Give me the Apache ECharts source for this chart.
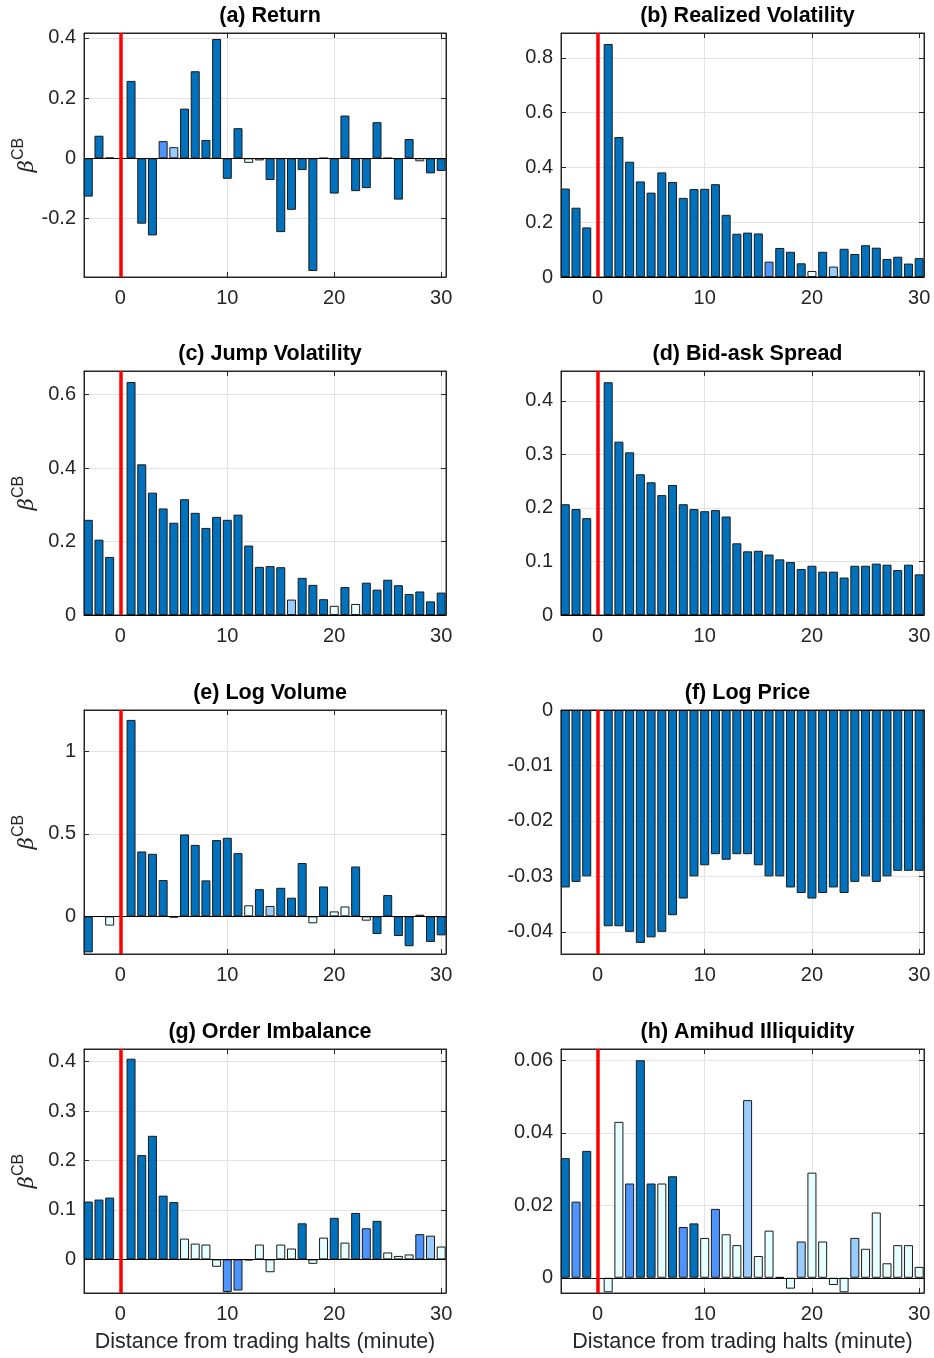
<!DOCTYPE html>
<html>
<head>
<meta charset="utf-8">
<script src="https://cdn.jsdelivr.net/npm/echarts@6.0.0/dist/echarts.min.js"></script>
<style>
html,body{margin:0;padding:0;background:#fff;}
#chart{width:934px;height:1358px;}
</style>
</head>
<body>
<div id="chart"></div>
<script>
// minutes relative to the trading halt (0 = halt, no bar)
const minutes = [-3,-2,-1,0,1,2,3,4,5,6,7,8,9,10,11,12,13,14,15,16,17,18,19,20,21,22,23,24,25,26,27,28,29,30];

const titles = ['(a) Return','(b) Realized Volatility','(c) Jump Volatility','(d) Bid-ask Spread',
                '(e) Log Volume','(f) Log Price','(g) Order Imbalance','(h) Amihud Illiquidity'];

// coefficient values
const returnVals = [-0.127,0.075,0.002,null,0.257,-0.217,-0.256,0.057,0.037,0.165,0.289,0.061,0.396,-0.068,0.100,-0.015,-0.007,-0.072,-0.245,-0.171,-0.039,-0.374,0.001,-0.117,0.142,-0.109,-0.099,0.120,0.001,-0.137,0.064,-0.010,-0.050,-0.042];
const realVolVals = [0.323,0.253,0.181,null,0.851,0.511,0.421,0.349,0.308,0.382,0.347,0.289,0.321,0.322,0.339,0.227,0.158,0.162,0.159,0.056,0.106,0.092,0.050,0.022,0.092,0.038,0.103,0.084,0.116,0.107,0.066,0.074,0.049,0.069];
const jumpVolVals = [0.259,0.205,0.158,null,0.634,0.410,0.333,0.290,0.251,0.315,0.278,0.237,0.267,0.259,0.273,0.189,0.131,0.133,0.130,0.042,0.101,0.082,0.043,0.025,0.076,0.030,0.088,0.069,0.096,0.081,0.057,0.064,0.037,0.061];
const spreadVals = [0.207,0.198,0.181,null,0.435,0.324,0.304,0.263,0.248,0.224,0.243,0.207,0.198,0.194,0.196,0.184,0.134,0.119,0.120,0.113,0.104,0.099,0.086,0.092,0.081,0.081,0.070,0.092,0.092,0.096,0.094,0.084,0.094,0.076];
const logVolVals = [-0.218,-0.002,-0.056,null,1.19,0.393,0.379,0.220,-0.008,0.496,0.433,0.218,0.462,0.476,0.383,0.067,0.165,0.063,0.173,0.113,0.323,-0.042,0.181,0.030,0.060,0.302,-0.026,-0.107,0.129,-0.119,-0.181,0.010,-0.155,-0.115];
const logPriceVals = [-0.032,-0.031,-0.030,null,-0.039,-0.039,-0.040,-0.042,-0.041,-0.040,-0.037,-0.034,-0.030,-0.028,-0.026,-0.027,-0.026,-0.026,-0.028,-0.030,-0.030,-0.032,-0.033,-0.034,-0.033,-0.032,-0.033,-0.031,-0.030,-0.031,-0.030,-0.029,-0.029,-0.029];
const imbalanceVals = [0.117,0.121,0.125,null,0.406,0.211,0.250,0.129,0.116,0.042,0.032,0.030,-0.015,-0.066,-0.063,-0.002,0.030,-0.026,0.030,0.022,0.073,-0.009,0.044,0.084,0.034,0.094,0.063,0.078,0.014,0.007,0.010,0.051,0.048,0.026];
const amihudVals = [0.033,0.021,0.035,null,-0.004,0.043,0.026,0.060,0.026,0.026,0.028,0.014,0.015,0.011,0.019,0.012,0.009,0.049,0.006,0.013,0.0002,-0.003,0.010,0.029,0.010,-0.002,-0.004,0.011,0.008,0.018,0.004,0.009,0.009,0.003];

// significance level per bar: 3 = darkest, 2, 1, 0 = lightest
const returnSig   = [3,3,3,null,3,3,3,2,1,3,3,3,3,3,3,0,0,3,3,3,3,3,3,3,3,3,3,3,3,3,3,0,3,3];
const realVolSig  = [3,3,3,null,3,3,3,3,3,3,3,3,3,3,3,3,3,3,3,2,3,3,3,0,3,1,3,3,3,3,3,3,3,3];
const jumpVolSig  = [3,3,3,null,3,3,3,3,3,3,3,3,3,3,3,3,3,3,3,1,3,3,3,0,3,0,3,3,3,3,3,3,3,3];
const spreadSig   = [3,3,3,null,3,3,3,3,3,3,3,3,3,3,3,3,3,3,3,3,3,3,3,3,3,3,3,3,3,3,3,3,3,3];
const logVolSig   = [3,3,0,null,3,3,3,3,3,3,3,3,3,3,3,0,3,1,3,3,3,0,3,0,0,3,0,3,3,3,3,0,3,3];
const logPriceSig = [3,3,3,null,3,3,3,3,3,3,3,3,3,3,3,3,3,3,3,3,3,3,3,3,3,3,3,3,3,3,3,3,3,3];
const imbalanceSig= [3,3,3,null,3,3,3,3,3,0,0,0,0,2,2,3,0,0,0,0,3,0,0,3,0,3,2,3,0,0,0,2,1,0];
const amihudSig   = [3,2,3,null,0,0,2,3,3,0,3,2,3,0,2,0,0,1,0,0,3,0,1,0,0,0,0,1,0,0,0,0,0,0];

// y tick labels per panel
const yTicks = [
  [-0.2,0,0.2,0.4],
  [0,0.2,0.4,0.6,0.8],
  [0,0.2,0.4,0.6],
  [0,0.1,0.2,0.3,0.4],
  [0,0.5,1],
  [-0.04,-0.03,-0.02,-0.01,0],
  [0,0.1,0.2,0.3,0.4],
  [0,0.02,0.04,0.06]
];
const xTicks = [0,10,20,30];

const panelVals = [returnVals,realVolVals,jumpVolVals,spreadVals,logVolVals,logPriceVals,imbalanceVals,amihudVals];
const panelSig = [returnSig,realVolSig,jumpVolSig,spreadSig,logVolSig,logPriceSig,imbalanceSig,amihudSig];

// axis limits (layout)
const yRange = [[-0.394,0.416],[0,0.891],[0,0.664],[0,0.456],[-0.228,1.25],[-0.044,0],[-0.068,0.4256],[-0.0042,0.0631]];
const xMin = -3.4, xMax = 30.45;

const sigColors = ['#E6FFFF','#99CCFF','#4D94FF','#0072BD'];
const FONT = '"Liberation Sans", Arial, Helvetica, sans-serif';
const TXT = '#262626';

const colLeft = [84, 561];
const colWidth = [362, 363];
const rowTop = [33, 371, 710, 1049];
const plotH = 244;

const grids = [], xAxes = [], yAxes = [], series = [], titleArr = [];
function fmt(v){ return String(+v.toFixed(4)); }

for (let i = 0; i < 8; i++) {
  const col = i % 2, row = Math.floor(i / 2);
  const left = colLeft[col], width = colWidth[col], top = rowTop[row];
  grids.push({left: left, top: top, width: width, height: plotH, show: true, borderColor: TXT, borderWidth: 1, backgroundColor: '#fff'});
  titleArr.push({text: titles[i], left: left + width / 2, top: top - 33, textAlign: 'center',
    textStyle: {fontFamily: FONT, fontSize: 21.5, fontWeight: 'bold', color: '#000'}});
  const xa = {
    type: 'value', gridIndex: i, min: xMin, max: xMax,
    axisLine: {show: true, onZero: false, lineStyle: {color: TXT, width: 1}},
    axisTick: {show: true, inside: true, length: 5, customValues: xTicks, lineStyle: {color: TXT}},
    axisLabel: {show: true, customValues: xTicks, margin: 11, fontFamily: FONT, fontSize: 20, color: TXT, formatter: fmt},
    splitLine: {show: true, lineStyle: {color: '#e3e3e3', width: 1}}
  };
  if (row === 3) {
    xa.name = 'Distance from trading halts (minute)';
    xa.nameLocation = 'middle';
    xa.nameGap = 38;
    xa.nameTextStyle = {fontFamily: FONT, fontSize: 21.5, color: TXT};
  }
  xAxes.push(xa);
  const ya = {
    type: 'value', gridIndex: i, min: yRange[i][0], max: yRange[i][1],
    axisLine: {show: true, onZero: false, lineStyle: {color: TXT, width: 1}},
    axisTick: {show: true, inside: true, length: 5, customValues: yTicks[i], lineStyle: {color: TXT}},
    axisLabel: {show: true, customValues: yTicks[i], margin: 8, fontFamily: FONT, fontSize: 20, color: TXT, formatter: fmt},
    splitLine: {show: true, lineStyle: {color: '#e3e3e3', width: 1}}
  };
  if (col === 0) {
    ya.name = '{b|β}{s|CB}';
    ya.nameLocation = 'middle';
    ya.nameRotate = 90;
    ya.nameGap = 46;
    ya.nameTextStyle = {
      rich: {
        b: {fontFamily: '"DejaVu Serif", serif', fontStyle: 'italic', fontSize: 21, color: TXT, lineHeight: 27, verticalAlign: 'bottom'},
        s: {fontFamily: FONT, fontSize: 16, color: TXT, lineHeight: 16, verticalAlign: 'top'}
      }
    };
  }
  yAxes.push(ya);

  const data = [];
  minutes.forEach((m, j) => {
    const v = panelVals[i][j];
    if (v === null) return;
    data.push({value: [m, v], itemStyle: {color: sigColors[panelSig[i][j]]}});
  });
  series.push({
    type: 'bar', xAxisIndex: i, yAxisIndex: i, data: data,
    barWidth: width * 0.84 / (xMax - xMin),
    itemStyle: {borderColor: '#1a1a1a', borderWidth: 1},
    animation: false, silent: true,
    markLine: {
      silent: true, symbol: 'none', animation: false, label: {show: false},
      data: [
        {yAxis: 0, lineStyle: {color: '#000', width: 1, type: 'solid'}},
        {xAxis: 0, lineStyle: {color: '#ff0000', width: 3.5, type: 'solid'}}
      ]
    }
  });
}
// top and right mirror axes (box ticks)
for (let i = 0; i < 8; i++) {
  xAxes.push({type: 'value', gridIndex: i, position: 'top', min: xMin, max: xMax,
    axisLine: {show: true, onZero: false, lineStyle: {color: TXT}},
    axisTick: {show: true, inside: true, length: 5, customValues: xTicks, lineStyle: {color: TXT}},
    axisLabel: {show: false}, splitLine: {show: false}});
  yAxes.push({type: 'value', gridIndex: i, position: 'right', min: yRange[i][0], max: yRange[i][1],
    axisLine: {show: true, onZero: false, lineStyle: {color: TXT}},
    axisTick: {show: true, inside: true, length: 5, customValues: yTicks[i], lineStyle: {color: TXT}},
    axisLabel: {show: false}, splitLine: {show: false}});
}

const chart = echarts.init(document.getElementById('chart'), null, {renderer: 'canvas'});
chart.setOption({
  animation: false,
  backgroundColor: '#fff',
  title: titleArr,
  grid: grids,
  xAxis: xAxes,
  yAxis: yAxes,
  series: series
});
</script>
</body>
</html>
